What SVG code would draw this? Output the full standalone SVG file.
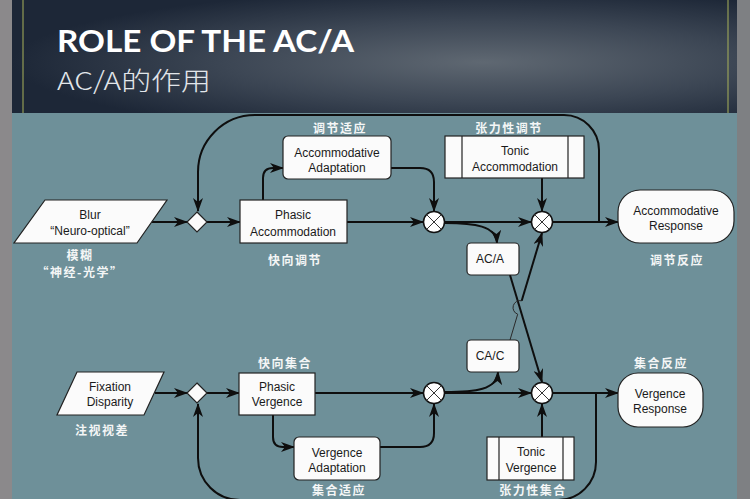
<svg xmlns="http://www.w3.org/2000/svg" width="750" height="499" viewBox="0 0 750 499">
<defs>
  <radialGradient id="hdr" cx="0.65" cy="0.55" r="0.65">
    <stop offset="0" stop-color="#5f6872"/>
    <stop offset="0.55" stop-color="#3c4654"/>
    <stop offset="1" stop-color="#1d2737"/>
  </radialGradient>
  <marker id="ah" viewBox="0 0 14 10" refX="13" refY="5" markerWidth="14" markerHeight="10" markerUnits="userSpaceOnUse" orient="auto">
    <path d="M0,0 L14,5 L0,10 L4,5 z" fill="#0e0e0e"/>
  </marker>
</defs>
<style>
  .ln{fill:none;stroke:#0e0e0e;stroke-width:2}
  .thin{fill:none;stroke:#2a2a2a;stroke-width:1}
  .ar{marker-end:url(#ah)}
  .box{fill:#fbfbfb;stroke:#222;stroke-width:1.2}
  .t{font-family:"Liberation Sans",Arial,sans-serif;font-size:12px;fill:#1a1a1a;text-anchor:middle}
  .cn{font-family:"Noto Sans CJK SC",sans-serif;font-weight:bold;font-size:12px;fill:#f4f6f6;text-anchor:middle;letter-spacing:1.5px}
  .j{fill:#fff;stroke:#111;stroke-width:1.5}
  .x{stroke:#333;stroke-width:1}
</style>

<g id="background">
  <rect x="0" y="0" width="750" height="499" fill="#6e9099"/>
  <rect x="0" y="0" width="12" height="499" fill="#8b898b"/>
  <rect x="737" y="0" width="13" height="499" fill="#7e8083"/>
  <rect x="12" y="0" width="725" height="113" fill="url(#hdr)"/>
  <line x1="23" y1="0" x2="23" y2="113" stroke="#a9b25a" stroke-width="1"/>
  <line x1="728" y1="0" x2="728" y2="113" stroke="#a9b25a" stroke-width="1"/>
  <text x="57" y="52" font-family="Lato,'Liberation Sans',sans-serif" font-weight="bold" font-size="31" fill="#ffffff" textLength="297" lengthAdjust="spacingAndGlyphs">ROLE OF THE AC/A</text>
  <text x="57" y="90" font-family="'Noto Sans CJK SC',sans-serif" font-weight="300" font-size="25" fill="#e2e6ea" textLength="154" lengthAdjust="spacingAndGlyphs">AC/A的作用</text>
</g>

<g id="connectors">
  <!-- top row -->
  <path class="ln ar" d="M152,222 H187"/>
  <path class="ln ar" d="M207,222 H240"/>
  <path class="ln ar" d="M263,200 V178 Q263,168 273,168 H283"/>
  <path class="ln ar" d="M391,168 H420 Q434,168 434,182 V211"/>
  <path class="ln ar" d="M347,222 H423"/>
  <path class="ln ar" d="M445,222 H531"/>
  <path class="ln ar" d="M445,223 C475,223 496,226 497,243"/>
  <path class="ln ar" d="M542,178 V211"/>
  <path class="ln ar" d="M553,222 H618"/>
  <path class="ln ar" d="M599,222 V150 A35,35 0 0 0 564,115 H255 A57,57 0 0 0 198,172 V211"/>
  <!-- cross links -->
  <path class="ln ar" d="M510,275 L542,382"/>
  <path class="thin" d="M510,340 L517.7,314.2 A7,7 0 0 1 521.7,300.8"/>
  <path class="ln ar" d="M521.7,300.8 L542,233"/>
  <!-- bottom row -->
  <path class="ln ar" d="M155,393 H187"/>
  <path class="ln ar" d="M207,393 H239"/>
  <path class="ln ar" d="M273,415 V437 Q273,447 283,447 H294"/>
  <path class="ln ar" d="M380,447 H420 Q434,447 434,433 V404"/>
  <path class="ln ar" d="M315,393 H423"/>
  <path class="ln ar" d="M445,393 H531"/>
  <path class="ln ar" d="M445,392 C475,392 497,390 498,372"/>
  <path class="ln ar" d="M542,437 V404"/>
  <path class="ln ar" d="M553,393 H618"/>
  <path class="ln ar" d="M596,393 V462 A38,38 0 0 1 558,500 H240 A42,42 0 0 1 198,458 V404"/>
</g>

<g id="blur">
  <polygon class="box" points="45,200 167,200 137,243 14,243"/>
  <text class="t" x="90" y="219">Blur</text>
  <text class="t" x="90" y="235">“Neuro-optical”</text>
  <text class="cn" x="80" y="260">模糊</text>
  <text class="cn" x="80" y="277">“神经-光学”</text>
</g>

<g id="sum-diamond-top">
  <polygon class="box" points="197,212 207,222 197,232 187,222"/>
</g>

<g id="phasic-accommodation">
  <rect class="box" x="240" y="200" width="107" height="43"/>
  <text class="t" x="293" y="219">Phasic</text>
  <text class="t" x="293" y="236">Accommodation</text>
  <text class="cn" x="295" y="265">快向调节</text>
</g>

<g id="accommodative-adaptation">
  <rect class="box" x="283" y="136" width="108" height="43" rx="5"/>
  <text class="t" x="337" y="157">Accommodative</text>
  <text class="t" x="337" y="172">Adaptation</text>
  <text class="cn" x="340" y="133">调节适应</text>
</g>

<g id="junction-1">
  <circle class="j" cx="434" cy="222" r="10.5"/>
  <path class="x" d="M426.6,214.6 L441.4,229.4 M441.4,214.6 L426.6,229.4"/>
</g>

<g id="tonic-accommodation">
  <rect class="box" x="445" y="136" width="139" height="42"/>
  <line class="box" x1="462" y1="136" x2="462" y2="178"/>
  <line class="box" x1="568" y1="136" x2="568" y2="178"/>
  <text class="t" x="515" y="155">Tonic</text>
  <text class="t" x="515" y="171">Accommodation</text>
  <text class="cn" x="509" y="133">张力性调节</text>
</g>

<g id="junction-2">
  <circle class="j" cx="542" cy="222" r="10.5"/>
  <path class="x" d="M534.6,214.6 L549.4,229.4 M549.4,214.6 L534.6,229.4"/>
</g>

<g id="accommodative-response">
  <rect class="box" x="618" y="190" width="116" height="53" rx="22"/>
  <text class="t" x="676" y="215">Accommodative</text>
  <text class="t" x="676" y="230">Response</text>
  <text class="cn" x="677" y="265">调节反应</text>
</g>

<g id="ac-a">
  <rect class="box" x="467" y="243" width="52" height="32" rx="4"/>
  <text class="t" x="490" y="263">AC/A</text>
</g>

<g id="ca-c">
  <rect class="box" x="467" y="340" width="52" height="32" rx="4"/>
  <text class="t" x="490" y="360">CA/C</text>
</g>

<g id="fixation-disparity">
  <polygon class="box" points="77,372 164,372 144,415 57,415"/>
  <text class="t" x="110" y="391">Fixation</text>
  <text class="t" x="110" y="406">Disparity</text>
  <text class="cn" x="102" y="435">注视视差</text>
</g>

<g id="sum-diamond-bottom">
  <polygon class="box" points="197,383 207,393 197,403 187,393"/>
</g>

<g id="phasic-vergence">
  <rect class="box" x="239" y="373" width="76" height="42"/>
  <text class="t" x="277" y="391">Phasic</text>
  <text class="t" x="277" y="406">Vergence</text>
  <text class="cn" x="285" y="368">快向集合</text>
</g>

<g id="vergence-adaptation">
  <rect class="box" x="294" y="437" width="86" height="43" rx="5"/>
  <text class="t" x="337" y="457">Vergence</text>
  <text class="t" x="337" y="472">Adaptation</text>
  <text class="cn" x="339" y="495" font-size="11.5">集合适应</text>
</g>

<g id="junction-3">
  <circle class="j" cx="434" cy="393" r="10.5"/>
  <path class="x" d="M426.6,385.6 L441.4,400.4 M441.4,385.6 L426.6,400.4"/>
</g>

<g id="junction-4">
  <circle class="j" cx="542" cy="393" r="10.5"/>
  <path class="x" d="M534.6,385.6 L549.4,400.4 M549.4,385.6 L534.6,400.4"/>
</g>

<g id="tonic-vergence">
  <rect class="box" x="487" y="437" width="87" height="43"/>
  <line class="box" x1="499" y1="437" x2="499" y2="480"/>
  <line class="box" x1="563" y1="437" x2="563" y2="480"/>
  <text class="t" x="531" y="456">Tonic</text>
  <text class="t" x="531" y="472">Vergence</text>
  <text class="cn" x="533" y="495" font-size="11.5">张力性集合</text>
</g>

<g id="vergence-response">
  <rect class="box" x="618" y="373" width="85" height="54" rx="20"/>
  <text class="t" x="660" y="398">Vergence</text>
  <text class="t" x="660" y="413">Response</text>
  <text class="cn" x="661" y="368">集合反应</text>
</g>
</svg>
